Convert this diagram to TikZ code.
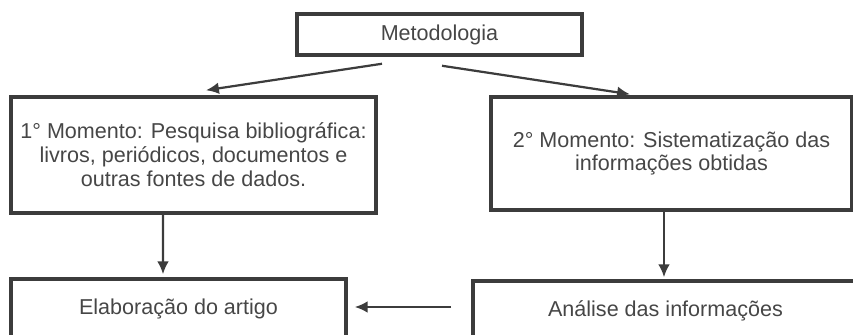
\documentclass[tikz,border=0pt]{standalone}
\usepackage{fontspec}
\setmainfont{Liberation Sans}
\usetikzlibrary{arrows.meta}
\definecolor{linegrey}{HTML}{3C3C3C}
\definecolor{textgrey}{HTML}{464646}

\begin{document}
\begin{tikzpicture}[
  box/.style={draw=linegrey, line width=3pt, inner sep=0pt, align=center,
    text=textgrey, font=\fontsize{18.4}{20.4}\selectfont},
  arr/.style={-{Latex[length=11pt,width=10pt]}, line width=1.9pt, draw=linegrey}]

\useasboundingbox (0,0) rectangle (25.59,-10.05);

\node[box, minimum width=8.55cm, minimum height=1.23cm] (meto) at (13.185,-1.035){Metodologia};

\node[box, minimum width=10.95cm, minimum height=3.48cm] (mom1) at (5.805,-4.65)
  {1° Momento: Pesquisa bibliográfica:\\livros, periódicos, documentos e\\outras fontes de dados.};
\node[box, minimum width=10.83cm, minimum height=3.39cm] (mom2) at (20.145,-4.605)
  {2° Momento: Sistematização das\\informações obtidas};

\node[box, minimum width=10.05cm, minimum height=1.8cm] (elab) at (5.355,-9.27){Elaboração do artigo};
\node[box, minimum width=11.55cm, minimum height=1.8cm] (anal) at (19.965,-9.33){Análise das informações};

\draw[arr] ([shift={(-1.725,-0.21)}]meto.south) -- ([shift={(0.375,0.15)}]mom1.north);
\draw[arr] ([shift={(0.075,-0.27)}]meto.south) -- ([shift={(-1.245,0.03)}]mom2.north);
\draw[arr] ([xshift=-0.915cm]mom1.south) -- ([shift={(-0.465,0.09)}]elab.north);
\draw[arr] ([xshift=-0.225cm]mom2.south) -- ([shift={(-0.045,0.06)}]anal.north);
\draw[arr] ([shift={(-0.6,0.12)}]anal.west) -- ([shift={(0.21,0.06)}]elab.east);

\end{tikzpicture}
\end{document}
